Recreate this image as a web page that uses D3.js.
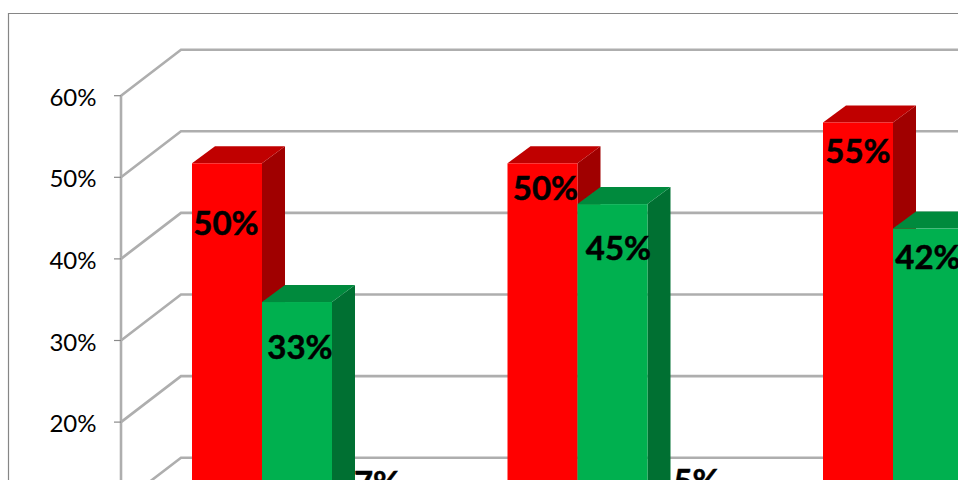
<!DOCTYPE html>
<html><head><meta charset="utf-8">
<script src="https://cdnjs.cloudflare.com/ajax/libs/d3/7.8.5/d3.min.js"></script>
<style>html,body{margin:0;padding:0;background:#fff;overflow:hidden}svg{display:block}</style>
</head><body><svg id="c" width="958" height="480"></svg>
<script>
const groups = ["A","B","C"];
const seriesNames = ["Red","Green","Third"];
const redValues = [50,50,55];
const greenValues = [33,45,42];
const thirdValues = [7,5];
const tickValues = [10,20,30,40,50,60];
const colors = [
 {front:"#ff0000",side:"#a00000",top:"#c00000"},
 {front:"#00b050",side:"#007033",top:"#008a3e"},
 {front:"#00b050",side:"#007033",top:"#008a3e"}];
// hand-placed data label offsets (from the bar's front-face centre / top)
const labelShift = [
 [[-1,60],[3,45],[10,-31]],
 [[3,25],[6,44],[14,-49]],
 [[0,29],[0,29]]];

const svg = d3.select("#c");
const defs = svg.append("defs");
defs.append("filter").attr("id","soft").attr("x","-5%").attr("y","-5%").attr("width","110%").attr("height","110%")
  .append("feGaussianBlur").attr("stdDeviation",0.45);
defs.append("filter").attr("id","soft2").attr("x","-5%").attr("y","-5%").attr("width","110%").attr("height","110%")
  .append("feGaussianBlur").attr("stdDeviation",0.7);

const y = d3.scaleLinear().domain([0,60]).range([585.3,95.7]);
const groupX = d3.scaleLinear().domain([0,1]).range([192,507.5]);
const barW = 70;
const wall = {dx:60,dy:-46}, off = {dy:-14}, depth = {dx:23,dy:-17};
const viewH = 480;

svg.append("path").attr("d","M8.5,480V13.5H958").attr("fill","none").attr("stroke","#868686").attr("stroke-width",1.2);

const grid = svg.append("g").attr("filter","url(#soft2)").attr("fill","none").attr("stroke","#aeaeae").attr("stroke-width",2.6);
tickValues.forEach(t=>{
  grid.append("path").attr("d",d3.line()([[121,y(t)],[121+wall.dx,y(t)+wall.dy],[958,y(t)+wall.dy]]));
});
grid.append("path").attr("d",d3.line()([[121,y(60)],[121,480]]));

const ticks = svg.append("g");
tickValues.filter(t=>y(t)<viewH).forEach(t=>{
  ticks.append("path").attr("d",d3.line()([[114,y(t)],[121,y(t)]])).attr("stroke","#8a8a8a").attr("stroke-width",1.2);
  ticks.append("text").attr("x",96.5).attr("y",y(t)+1.5).attr("dy","0.36em").attr("text-anchor","end")
    .attr("font-family","Lato, 'Noto Sans', sans-serif").attr("font-size",24).attr("fill","#000").text(t+"%");
});

const bars = svg.append("g").attr("filter","url(#soft)");
const labels = svg.append("g");
const all = [redValues,greenValues,thirdValues];
groups.forEach((g,gi)=>{
  all.forEach((vals,si)=>{
    const v = vals[gi]; if(v===undefined) return;
    const x0 = groupX(gi)+si*barW, x1=x0+barW, t=y(v)+off.dy, b=y(0)+off.dy, c=colors[si];
    const line=d3.line();
    bars.append("path").attr("fill",c.side).attr("d",line([[x1,t],[x1+depth.dx,t+depth.dy],[x1+depth.dx,b+depth.dy],[x1,b]])+"Z");
    bars.append("path").attr("fill",c.top).attr("d",line([[x0,t],[x0+depth.dx,t+depth.dy],[x1+depth.dx,t+depth.dy],[x1,t]])+"Z");
    bars.append("rect").attr("fill",c.front).attr("x",x0).attr("y",t).attr("width",barW).attr("height",b-t);
    const s=labelShift[gi][si];
    labels.append("text").attr("x",x0+barW/2+s[0]).attr("y",t+s[1]).attr("dy","0.36em").attr("text-anchor","middle")
      .attr("font-family","Lato, 'Noto Sans', sans-serif").attr("font-weight",700).attr("font-size",33)
      .attr("fill","#000").attr("stroke","#000").attr("stroke-width",0.5).text(v+"%");
  });
});
</script></body></html>
